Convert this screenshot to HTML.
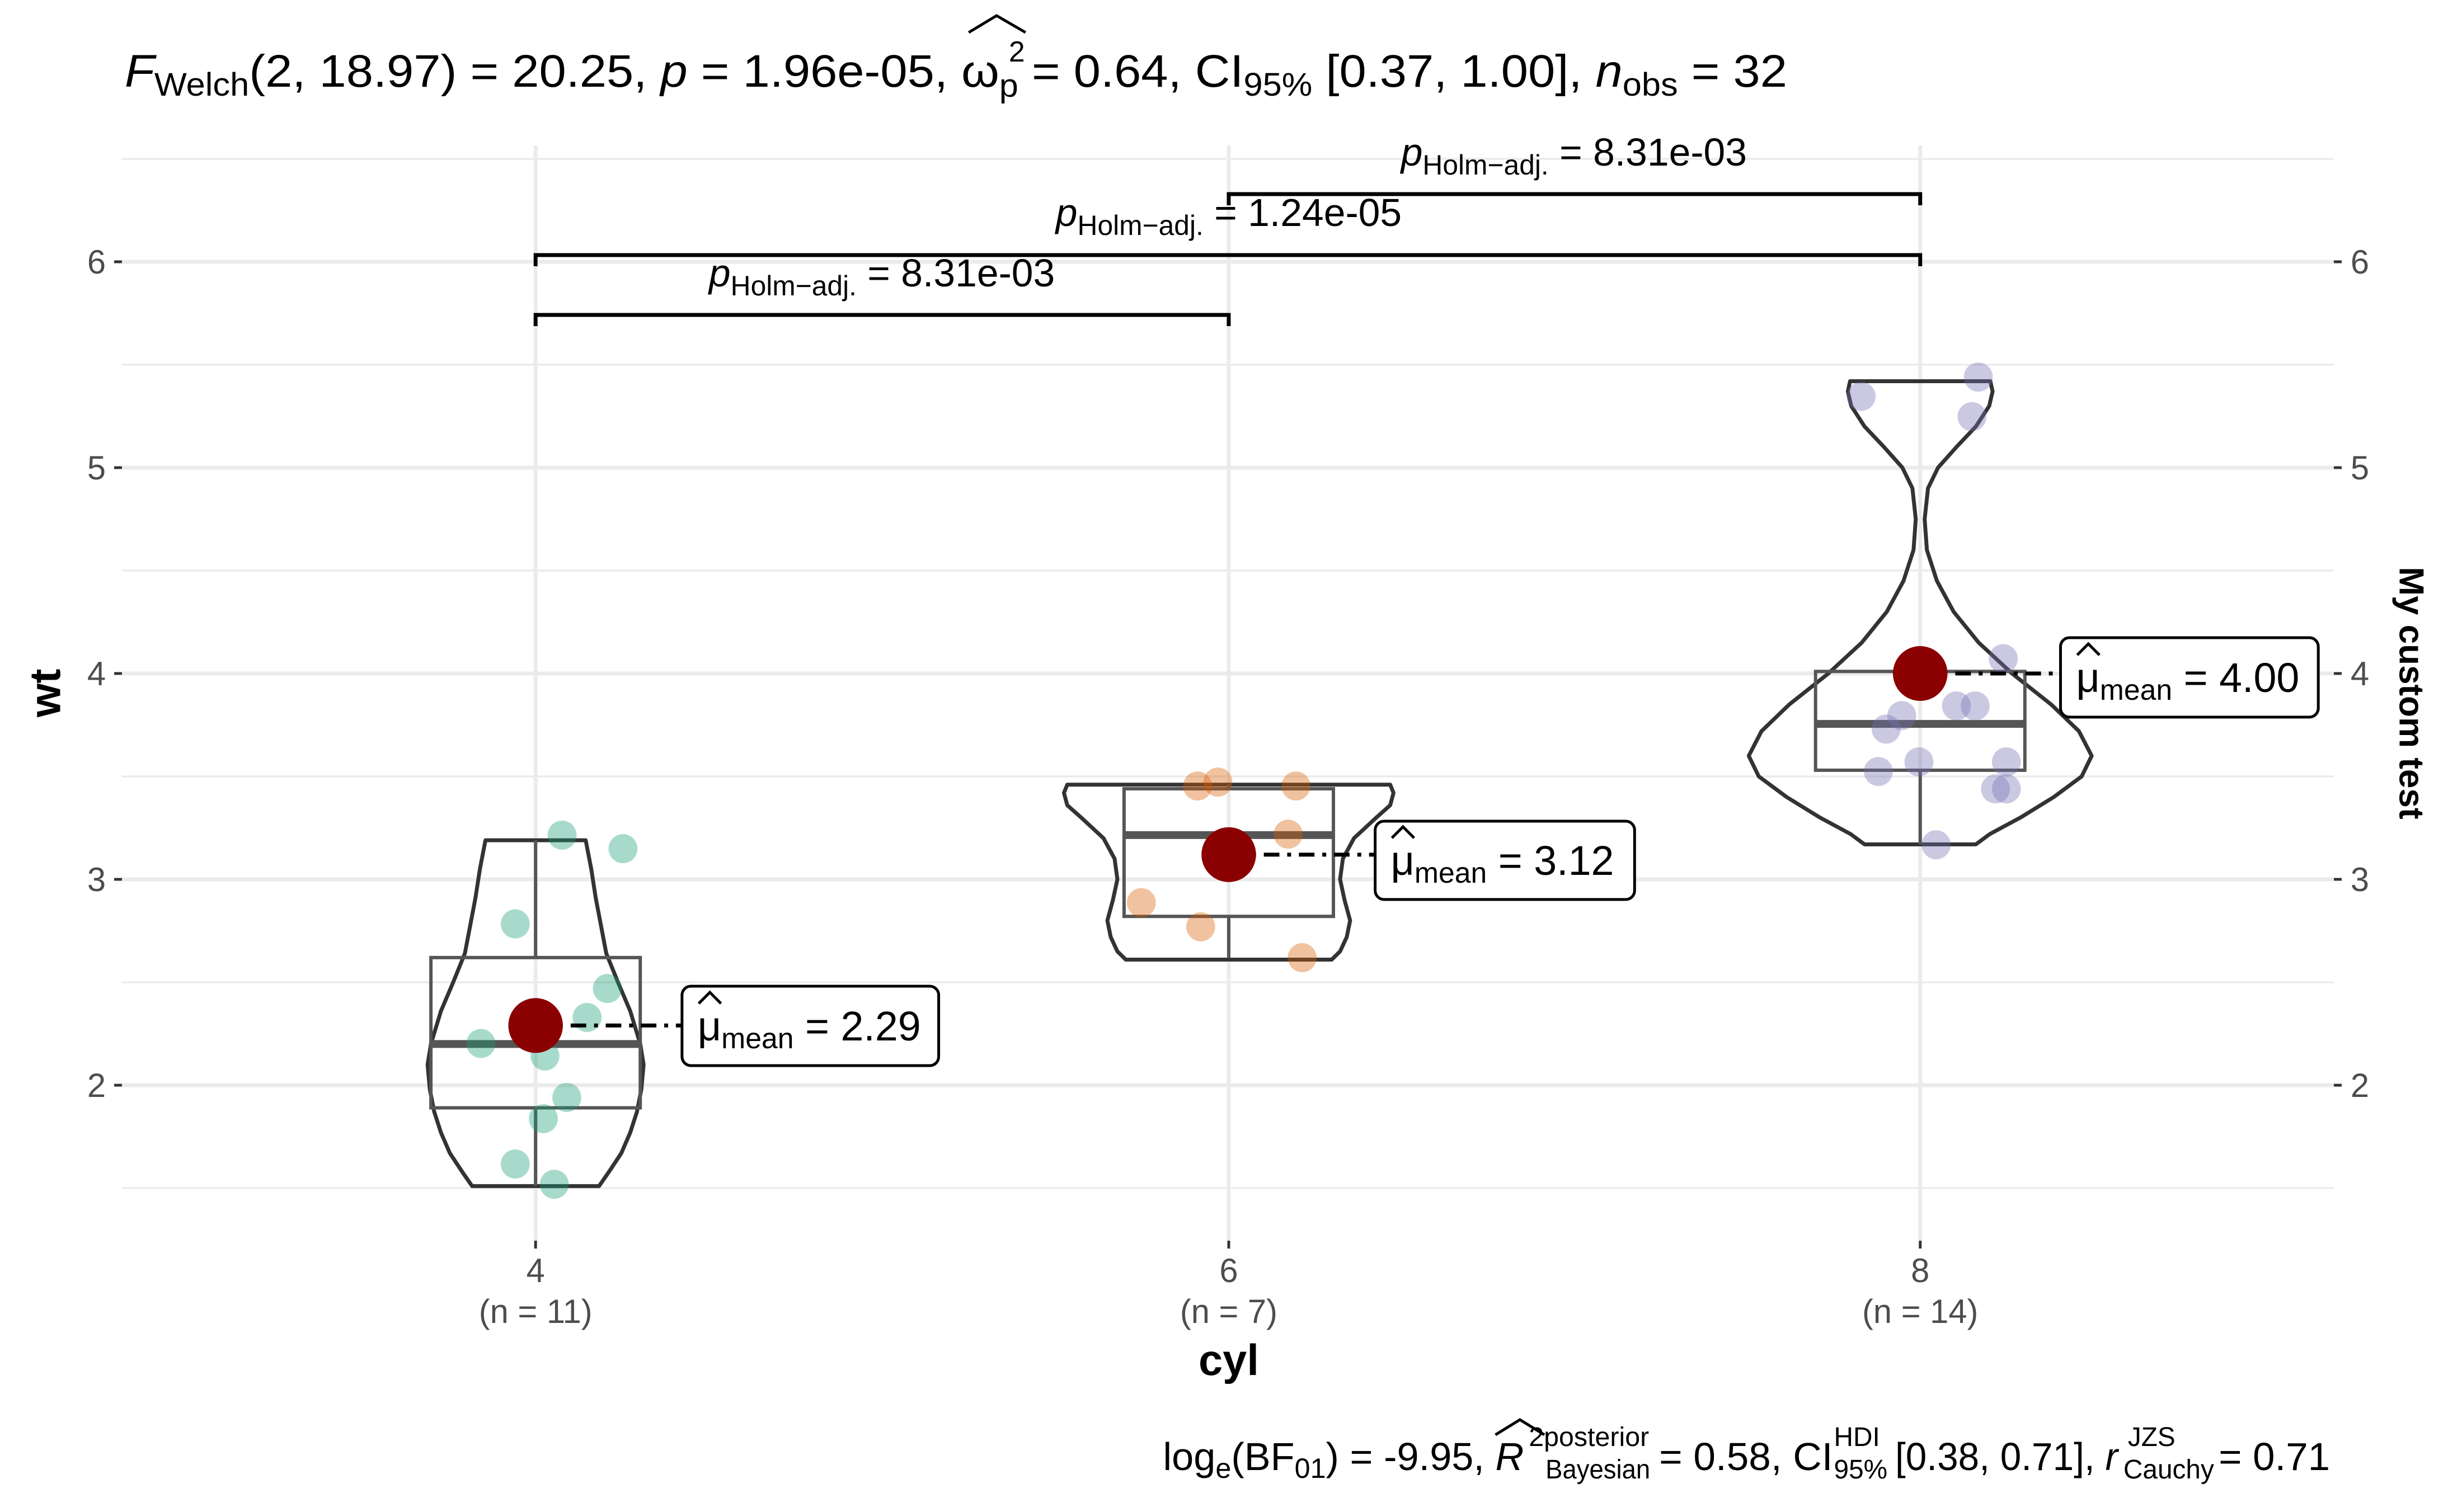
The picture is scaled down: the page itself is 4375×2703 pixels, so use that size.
<!DOCTYPE html>
<html><head><meta charset="utf-8"><style>
html,body{margin:0;padding:0;background:#fff}
svg{display:block;font-family:"Liberation Sans",sans-serif}
</style></head><body>
<svg id="s" width="4375" height="2703" viewBox="0 0 4375 2703" xmlns="http://www.w3.org/2000/svg">
<rect width="4375" height="2703" fill="#fff"/>
<g transform="scale(0.995,1)">
<g id="grid"></g>
<g id="vio" fill="none" stroke="#333" stroke-width="7"></g>
<g id="box"></g>
<g id="pts"></g>
<g id="means"></g>
<g stroke="#000" stroke-width="7" fill="none">
<path d="M962,583 V563 H2207 V583"/>
<path d="M962,476 V456 H3449 V476"/>
<path d="M2207,367 V347 H3449 V367"/>
</g>
<g font-size="70" fill="#000" text-anchor="middle">
<text x="1584" y="512"><tspan font-style="italic">p</tspan><tspan dy="16" font-size="50">Holm−adj.</tspan><tspan dy="-16"> = 8.31e-03</tspan></text>
<text x="2207" y="404"><tspan font-style="italic">p</tspan><tspan dy="16" font-size="50">Holm−adj.</tspan><tspan dy="-16"> = 1.24e-05</tspan></text>
<text x="2827" y="296"><tspan font-style="italic">p</tspan><tspan dy="16" font-size="50">Holm−adj.</tspan><tspan dy="-16"> = 8.31e-03</tspan></text>
</g>
<text x="224" y="155" font-size="82" textLength="2986" lengthAdjust="spacingAndGlyphs"><tspan font-style="italic">F</tspan><tspan dy="16" font-size="58">Welch</tspan><tspan dy="-16">(2, 18.97) = 20.25, </tspan><tspan font-style="italic">p</tspan> = 1.96e-05, ω<tspan dy="18" font-size="58">p</tspan><tspan dy="-18"> = 0.64, CI</tspan><tspan dy="16" font-size="58">95%</tspan><tspan dy="-16"> [0.37, 1.00], </tspan><tspan font-style="italic">n</tspan><tspan dy="16" font-size="58">obs</tspan><tspan dy="-16"> = 32</tspan></text>
<text x="1812" y="110" font-size="52">2</text>
<path d="M1740,58 L1790,28 L1842,58" stroke="#000" stroke-width="5" fill="none"/>
<g font-size="60" fill="#4d4d4d">
<g text-anchor="end" id="yl"></g>
<g id="yr"></g>
<g text-anchor="middle">
<text x="962" y="2292">4</text><text x="962" y="2365">(n = 11)</text>
<text x="2207" y="2292">6</text><text x="2207" y="2365">(n = 7)</text>
<text x="3449" y="2292">8</text><text x="3449" y="2365">(n = 14)</text>
</g>
</g>
<text x="2207" y="2458" font-size="78" font-weight="bold" text-anchor="middle">cyl</text>
<text transform="translate(108,1239) rotate(-90)" font-size="78" font-weight="bold" text-anchor="middle">wt</text>
<text transform="translate(4310,1239) rotate(90)" font-size="62" font-weight="bold" text-anchor="middle">My custom test</text>
<g font-size="70">
<text x="2089" y="2628" textLength="648" lengthAdjust="spacingAndGlyphs">log<tspan dy="14" font-size="50">e</tspan><tspan dy="-14">(BF</tspan><tspan dy="14" font-size="50">01</tspan><tspan dy="-14">) = -9.95, </tspan><tspan font-style="italic">R</tspan></text>
<text x="2746" y="2585" font-size="48" textLength="216" lengthAdjust="spacingAndGlyphs">2posterior</text>
<text x="2776" y="2643" font-size="48" textLength="188" lengthAdjust="spacingAndGlyphs">Bayesian</text>
<text x="2980" y="2628" textLength="312" lengthAdjust="spacingAndGlyphs"> = 0.58, CI</text>
<text x="3294" y="2585" font-size="48">HDI</text>
<text x="3294" y="2643" font-size="48">95%</text>
<text x="3404" y="2628" textLength="400" lengthAdjust="spacingAndGlyphs">[0.38, 0.71], <tspan font-style="italic">r</tspan></text>
<text x="3822" y="2585" font-size="48">JZS</text>
<text x="3814" y="2643" font-size="48">Cauchy</text>
<text x="3985" y="2628" textLength="200" lengthAdjust="spacingAndGlyphs">= 0.71</text>
</g>
<path d="M2686,2565 L2730,2538 L2774,2565" stroke="#000" stroke-width="5" fill="none"/>
</g>
</svg>
<script>
const NS="http://www.w3.org/2000/svg";
function el(p,t,a){const e=document.createElementNS(NS,t);for(const k in a)e.setAttribute(k,a[k]);document.getElementById(p).appendChild(e);return e;}
const Y=v=>2676-368*v;
for(let v=1.5;v<=6.5;v+=0.5){const maj=Math.abs(v-Math.round(v))<0.01;
 el('grid','line',{x1:219,x2:4192,y1:Y(v),y2:Y(v),stroke:'#ebebeb','stroke-width':maj?7:3.5});}
for(const x of [962,2207,3449]){el('grid','line',{x1:x,x2:x,y1:260,y2:2218,stroke:'#ebebeb','stroke-width':7});
 el('grid','line',{x1:x,x2:x,y1:2218,y2:2232,stroke:'#333','stroke-width':5});}
for(let v=2;v<=6;v++){
 el('grid','line',{x1:205,x2:219,y1:Y(v),y2:Y(v),stroke:'#333','stroke-width':5});
 el('grid','line',{x1:4192,x2:4206,y1:Y(v),y2:Y(v),stroke:'#333','stroke-width':5});
 const t=el('yl','text',{x:190,y:Y(v)+21});t.textContent=v;
 const t2=el('yr','text',{x:4222,y:Y(v)+21});t2.textContent=v;}
function violin(cx,pts){
 const R=pts.map(p=>[cx+p[1],Y(p[0])]), L=pts.slice().reverse().map(p=>[cx-p[1],Y(p[0])]);
 const all=R.concat(L);let d='M'+all[0].join(',');
 for(let i=1;i<all.length;i++){d+=' L'+all[i].join(',');}
 el('vio','path',{d:d+' Z','stroke-linejoin':'round'});}
violin(962,[[3.19,90],[3.05,100],[2.91,108],[2.64,127],[2.5,148],[2.36,170],[2.2,188],[2.1,194],[1.98,190],[1.87,182],[1.77,170],[1.67,154],[1.58,132],[1.51,114]]);
violin(2207,[[3.46,290],[3.42,296],[3.36,290],[3.3,265],[3.2,225],[3.1,205],[3.0,200],[2.9,208],[2.8,218],[2.72,212],[2.65,200],[2.61,185]]);
violin(3449,[[5.42,126],[5.37,130],[5.3,124],[5.2,100],[5.1,65],[5.0,32],[4.9,14],[4.75,8],[4.6,12],[4.45,30],[4.3,60],[4.15,105],[4.0,165],[3.85,235],[3.72,285],[3.6,308],[3.5,290],[3.4,240],[3.3,180],[3.22,125],[3.17,100]]);
function box(cx,lo,q1,md,q3,hi){
 el('box','line',{x1:cx,x2:cx,y1:Y(hi),y2:Y(q3),stroke:'#555','stroke-width':6});
 el('box','line',{x1:cx,x2:cx,y1:Y(q1),y2:Y(lo),stroke:'#555','stroke-width':6});
 el('box','rect',{x:cx-188,y:Y(q3),width:376,height:Y(q1)-Y(q3),fill:'none',stroke:'#555','stroke-width':6});
 el('box','line',{x1:cx-188,x2:cx+188,y1:Y(md),y2:Y(md),stroke:'#555','stroke-width':14});}
box(962,1.51,1.89,2.2,2.62,3.19);
box(2207,2.62,2.82,3.215,3.44,3.46);
box(3449,3.17,3.53,3.755,4.01,4.01);
const sx=4375/1560, sy=2703/1560;
const g=[[[360,866],[399,880],[330,958],[389,1025],[376,1055],[308,1082],[349,1095],[363,1138],[348,1160],[330,1207],[355,1228]],
[[767,815],[780,811],[830,815],[825,865],[731,936],[769,961],[834,993]],
[[1192,411],[1267,391],[1263,432],[1283,683],[1253,732],[1265,732],[1218,742],[1208,756],[1203,800],[1229,790],[1285,790],[1278,818],[1285,818],[1240,876]]];
const cols=['#1b9e77','#d95f02','#7570b3'];
g.forEach((arr,i)=>arr.forEach(p=>el('pts','circle',{cx:p[0]*sx,cy:p[1]*sy*0.995,r:26,fill:cols[i],'fill-opacity':0.38})));
function mean(cx,v,bx,by,bw,bh,txt){
 const y=Y(v);
 el('means','line',{x1:cx,x2:bx,y1:y,y2:y,stroke:'#000','stroke-width':7,'stroke-dasharray':'28,14,7,14'});
 el('means','circle',{cx:cx,cy:y,r:49,fill:'#8b0000'});
 el('means','rect',{x:bx,y:by,width:bw,height:bh,rx:16,fill:'#fff',stroke:'#000','stroke-width':5});
 const t=el('means','text',{x:bx+28,y:by+bh/2+26,'font-size':74});
 t.innerHTML='μ<tspan dy="14" font-size="52">mean</tspan><tspan dy="-14"> = '+txt+'</tspan>';
 el('means','path',{d:`M${bx+30},${by+bh/2-40} L${bx+50},${by+bh/2-60} L${bx+70},${by+bh/2-40}`,stroke:'#000','stroke-width':5,fill:'none'});}
mean(962,2.29,1225,1763,461,142,'2.29');
mean(2207,3.12,2470,1468,466,140,'3.12');
mean(3449,4.00,3701,1140,463,142,'4.00');
</script>
</body></html>
